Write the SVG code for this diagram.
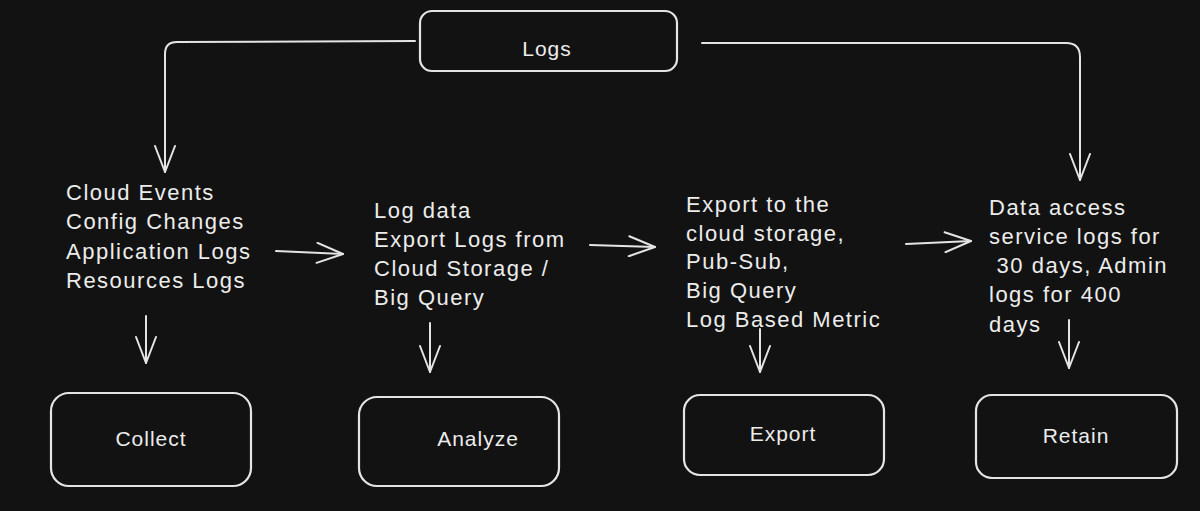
<svg xmlns="http://www.w3.org/2000/svg" width="1200" height="511" viewBox="0 0 1200 511">
<style>
.bg{fill:#121212}
.box{fill:#121212;stroke:#e4e4e4;stroke-width:2.2}
.lbl{font-family:"Liberation Sans",Arial,sans-serif;font-size:21px;fill:#ececec;letter-spacing:1px}
.txt{font-family:"Liberation Sans",Arial,sans-serif;font-size:22px;fill:#ececec;letter-spacing:1.5px}
.con{fill:none;stroke:#e4e4e4;stroke-width:2;stroke-linecap:round;stroke-linejoin:round}
</style>
<defs>
<marker id="ah" viewBox="0 0 30 22" refX="28" refY="11" markerWidth="30" markerHeight="22" markerUnits="userSpaceOnUse" orient="auto">
<path d="M2,1 L28,11 L2,21" fill="none" stroke="#e4e4e4" stroke-width="2" stroke-linecap="round" stroke-linejoin="round"/>
</marker>
</defs>
<rect class="bg" x="0" y="0" width="1200" height="511"/>

<g id="connectors">
<path class="con" d="M415,41 L177,42 Q165,42 165,54 L165,172" marker-end="url(#ah)"/>
<path class="con" d="M702,43 L1066,43 Q1080,43 1080,57 L1080,180" marker-end="url(#ah)"/>
<path class="con" d="M276,251 L343,254" marker-end="url(#ah)"/>
<path class="con" d="M590,245 L655,247" marker-end="url(#ah)"/>
<path class="con" d="M906,244 L971,241" marker-end="url(#ah)"/>
<path class="con" d="M146,316 L146,363" marker-end="url(#ah)"/>
<path class="con" d="M430,323 L430,372" marker-end="url(#ah)"/>
<path class="con" d="M760,329 L760,372" marker-end="url(#ah)"/>
<path class="con" d="M1069,320 L1069,368" marker-end="url(#ah)"/>
</g>

<g id="logs">
<rect class="box" x="420" y="11" width="257" height="60" rx="12"/>
<text class="lbl" x="547" y="56" text-anchor="middle">Logs</text>
</g>

<g id="sources">
<text class="txt" x="66" y="200">Cloud Events</text>
<text class="txt" x="66" y="229">Config Changes</text>
<text class="txt" x="66" y="259">Application Logs</text>
<text class="txt" x="66" y="288">Resources Logs</text>
</g>

<g id="analyze-info">
<text class="txt" x="374" y="218">Log data</text>
<text class="txt" x="374" y="247">Export Logs from</text>
<text class="txt" x="374" y="276">Cloud Storage /</text>
<text class="txt" x="374" y="305">Big Query</text>
</g>

<g id="export-info">
<text class="txt" x="686" y="212">Export to the</text>
<text class="txt" x="686" y="241">cloud storage,</text>
<text class="txt" x="686" y="269">Pub-Sub,</text>
<text class="txt" x="686" y="298">Big Query</text>
<text class="txt" x="686" y="327">Log Based Metric</text>
</g>

<g id="retain-info">
<text class="txt" x="989" y="215">Data access</text>
<text class="txt" x="989" y="244">service logs for</text>
<text class="txt" x="989" y="273" xml:space="preserve"> 30 days, Admin</text>
<text class="txt" x="989" y="302">logs for 400</text>
<text class="txt" x="989" y="332">days</text>
</g>

<g id="collect">
<rect class="box" x="51" y="393" width="200" height="93" rx="18"/>
<text class="lbl" x="151" y="446" text-anchor="middle">Collect</text>
</g>

<g id="analyze">
<rect class="box" x="359" y="397" width="200" height="89" rx="18"/>
<text class="lbl" x="478" y="446" text-anchor="middle">Analyze</text>
</g>

<g id="export">
<rect class="box" x="684" y="395" width="200" height="80" rx="16"/>
<text class="lbl" x="783" y="441" text-anchor="middle">Export</text>
</g>

<g id="retain">
<rect class="box" x="976" y="395" width="201" height="83" rx="16"/>
<text class="lbl" x="1076" y="443" text-anchor="middle">Retain</text>
</g>
</svg>
